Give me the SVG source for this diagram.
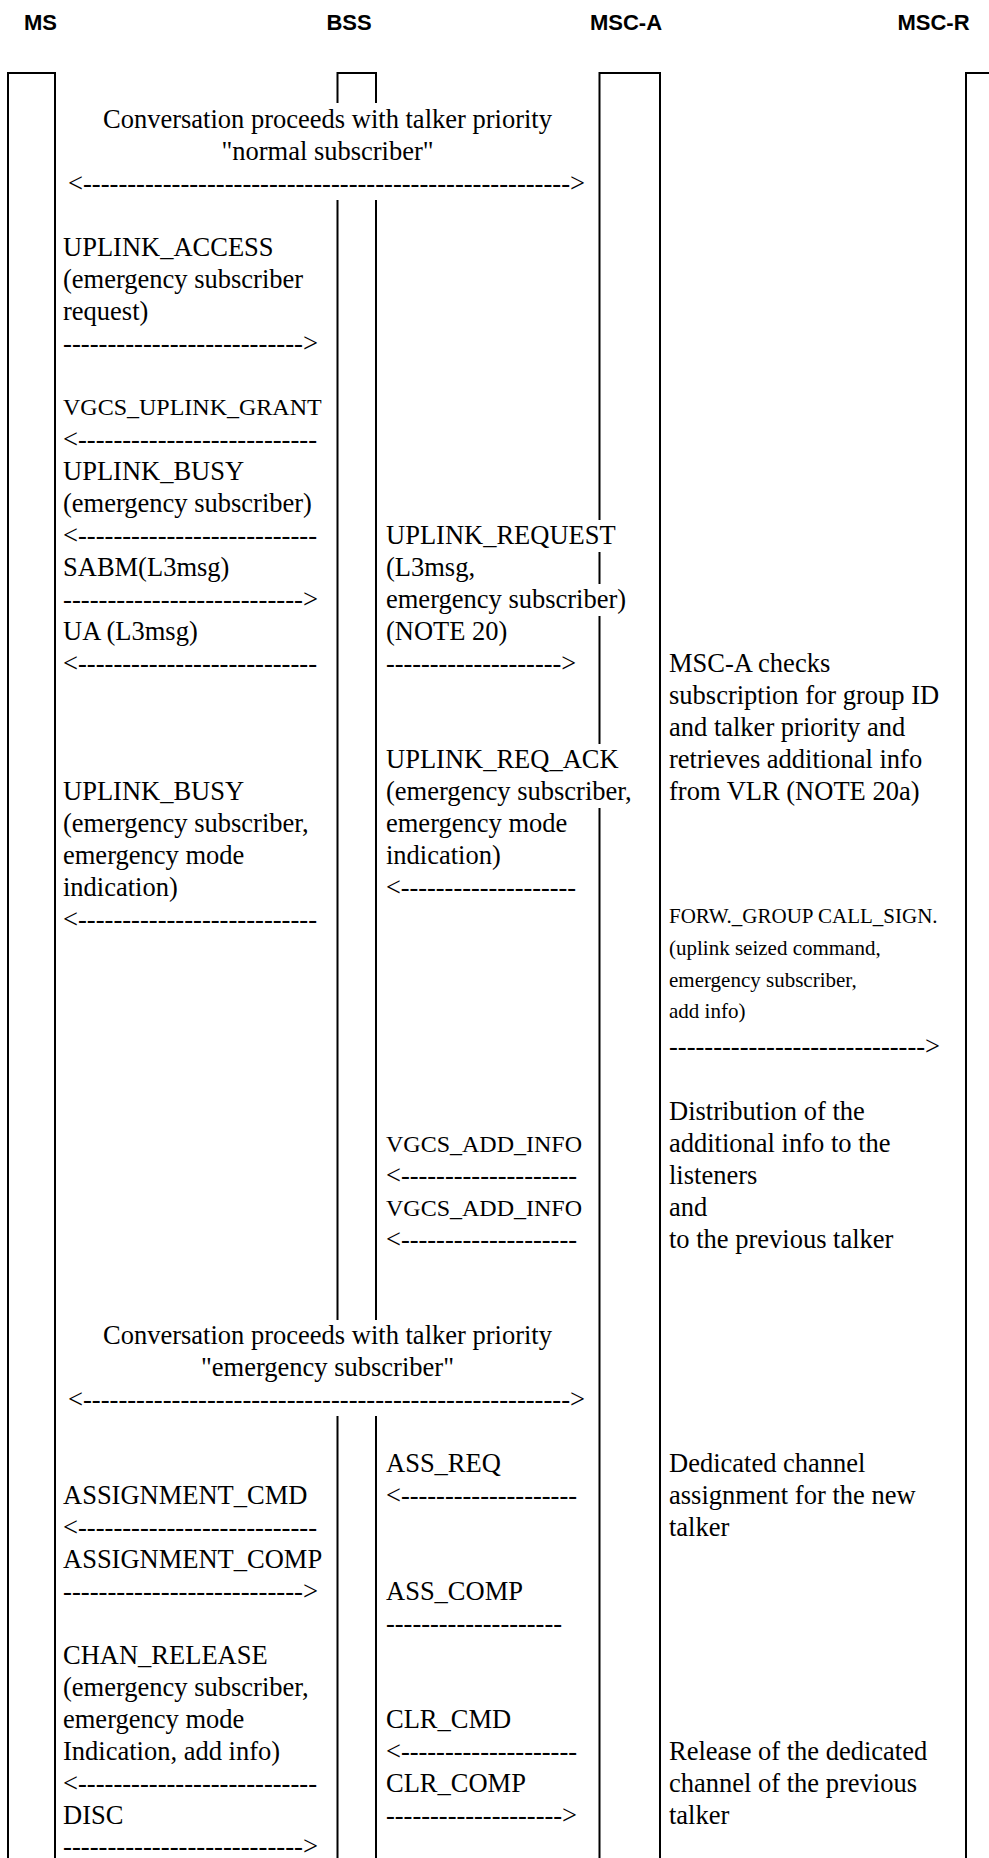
<svg xmlns="http://www.w3.org/2000/svg" width="989" height="1858" viewBox="0 0 989 1858">
<style>
.t{font-family:"Liberation Serif","Times New Roman",serif;font-size:26.5px;fill:#000}
.s{font-size:21px}
.g{font-size:24px}
.c{text-anchor:middle}
.h{font-family:"Liberation Sans",Arial,sans-serif;font-weight:bold;font-size:22px;fill:#000;text-anchor:middle}
.ln{stroke:#000;stroke-width:2;fill:none}
</style>
<rect width="989" height="1858" fill="#fff"/>
<g id="MS">
<text class="h" x="40.5" y="30">MS</text>
<path class="ln" d="M8,1858V73H55V1858"/>
</g>
<g id="BSS">
<text class="h" x="349" y="30">BSS</text>
<path class="ln" d="M337.5,103V73H376V103M337.5,200V1320M376,200V1320M337.5,1416V1858M376,1416V1858"/>
</g>
<g id="MSC-A">
<text class="h" x="626" y="30">MSC-A</text>
<path class="ln" d="M599.5,520V73H660V1858M599.5,552V584M599.5,616V744M599.5,808V1858"/>
</g>
<g id="MSC-R">
<text class="h" x="933.5" y="30">MSC-R</text>
<path class="ln" d="M966,1858V73H992"/>
</g>
<g id="notes">
<text class="t c" x="327.5" y="128">Conversation proceeds with talker priority</text>
<text class="t c" x="327.5" y="160">"normal subscriber"</text>
<text class="t" x="669" y="672">MSC-A checks</text>
<text class="t" x="669" y="704">subscription for group ID</text>
<text class="t" x="669" y="736">and talker priority and</text>
<text class="t" x="669" y="768">retrieves additional info</text>
<text class="t" x="669" y="800">from VLR (NOTE 20a)</text>
<text class="t" x="669" y="1120">Distribution of the</text>
<text class="t" x="669" y="1152">additional info to the</text>
<text class="t" x="669" y="1184">listeners</text>
<text class="t" x="669" y="1216">and</text>
<text class="t" x="669" y="1248">to the previous talker</text>
<text class="t c" x="327.5" y="1344">Conversation proceeds with talker priority</text>
<text class="t c" x="327.5" y="1376">"emergency subscriber"</text>
<text class="t" x="669" y="1472">Dedicated channel</text>
<text class="t" x="669" y="1504">assignment for the new</text>
<text class="t" x="669" y="1536">talker</text>
<text class="t" x="669" y="1760">Release of the dedicated</text>
<text class="t" x="669" y="1792">channel of the previous</text>
<text class="t" x="669" y="1824">talker</text>
</g>
<g id="messages">
<text class="t" x="63" y="256">UPLINK_ACCESS</text>
<text class="t" x="63" y="288">(emergency subscriber</text>
<text class="t" x="63" y="320">request)</text>
<text class="t g" x="63" y="415">VGCS_UPLINK_GRANT</text>
<text class="t" x="63" y="480">UPLINK_BUSY</text>
<text class="t" x="63" y="512">(emergency subscriber)</text>
<text class="t" x="63" y="576">SABM(L3msg)</text>
<text class="t" x="63" y="640">UA (L3msg)</text>
<text class="t" x="386" y="544">UPLINK_REQUEST</text>
<text class="t" x="386" y="576">(L3msg,</text>
<text class="t" x="386" y="608">emergency subscriber)</text>
<text class="t" x="386" y="640">(NOTE 20)</text>
<text class="t" x="386" y="768">UPLINK_REQ_ACK</text>
<text class="t" x="386" y="800">(emergency subscriber,</text>
<text class="t" x="386" y="832">emergency mode</text>
<text class="t" x="386" y="864">indication)</text>
<text class="t" x="63" y="800">UPLINK_BUSY</text>
<text class="t" x="63" y="832">(emergency subscriber,</text>
<text class="t" x="63" y="864">emergency mode</text>
<text class="t" x="63" y="896">indication)</text>
<text class="t s" x="669" y="923">FORW._GROUP CALL_SIGN.</text>
<text class="t s" x="669" y="955">(uplink seized command,</text>
<text class="t s" x="669" y="987">emergency subscriber,</text>
<text class="t s" x="669" y="1018">add info)</text>
<text class="t g" x="386" y="1152">VGCS_ADD_INFO</text>
<text class="t g" x="386" y="1216">VGCS_ADD_INFO</text>
<text class="t" x="386" y="1472">ASS_REQ</text>
<text class="t" x="63" y="1504">ASSIGNMENT_CMD</text>
<text class="t" x="63" y="1568">ASSIGNMENT_COMP</text>
<text class="t" x="386" y="1600">ASS_COMP</text>
<text class="t" x="63" y="1664">CHAN_RELEASE</text>
<text class="t" x="63" y="1696">(emergency subscriber,</text>
<text class="t" x="63" y="1728">emergency mode</text>
<text class="t" x="63" y="1760">Indication, add info)</text>
<text class="t" x="386" y="1728">CLR_CMD</text>
<text class="t" x="386" y="1792">CLR_COMP</text>
<text class="t" x="63" y="1824">DISC</text>
</g>
<g id="connectors">
<text class="t" x="68" y="192" textLength="517" lengthAdjust="spacingAndGlyphs">&lt;-------------------------------------------------------&gt;</text>
<text class="t" x="63" y="352" textLength="255" lengthAdjust="spacingAndGlyphs">---------------------------&gt;</text>
<text class="t" x="63" y="448" textLength="254" lengthAdjust="spacingAndGlyphs">&lt;---------------------------</text>
<text class="t" x="63" y="544" textLength="254" lengthAdjust="spacingAndGlyphs">&lt;---------------------------</text>
<text class="t" x="63" y="608" textLength="255" lengthAdjust="spacingAndGlyphs">---------------------------&gt;</text>
<text class="t" x="63" y="672" textLength="254" lengthAdjust="spacingAndGlyphs">&lt;---------------------------</text>
<text class="t" x="386" y="672" textLength="190" lengthAdjust="spacingAndGlyphs">--------------------&gt;</text>
<text class="t" x="386" y="896" textLength="190" lengthAdjust="spacingAndGlyphs">&lt;--------------------</text>
<text class="t" x="63" y="928" textLength="254" lengthAdjust="spacingAndGlyphs">&lt;---------------------------</text>
<text class="t" x="669" y="1055" textLength="271" lengthAdjust="spacingAndGlyphs">-----------------------------&gt;</text>
<text class="t" x="386" y="1184" textLength="191" lengthAdjust="spacingAndGlyphs">&lt;--------------------</text>
<text class="t" x="386" y="1248" textLength="191" lengthAdjust="spacingAndGlyphs">&lt;--------------------</text>
<text class="t" x="68" y="1408" textLength="517" lengthAdjust="spacingAndGlyphs">&lt;-------------------------------------------------------&gt;</text>
<text class="t" x="386" y="1504" textLength="191" lengthAdjust="spacingAndGlyphs">&lt;--------------------</text>
<text class="t" x="63" y="1536" textLength="254" lengthAdjust="spacingAndGlyphs">&lt;---------------------------</text>
<text class="t" x="63" y="1600" textLength="255" lengthAdjust="spacingAndGlyphs">---------------------------&gt;</text>
<text class="t" x="386" y="1632" textLength="176" lengthAdjust="spacingAndGlyphs">--------------------</text>
<text class="t" x="386" y="1760" textLength="191" lengthAdjust="spacingAndGlyphs">&lt;--------------------</text>
<text class="t" x="63" y="1792" textLength="254" lengthAdjust="spacingAndGlyphs">&lt;---------------------------</text>
<text class="t" x="386" y="1824" textLength="191" lengthAdjust="spacingAndGlyphs">--------------------&gt;</text>
<text class="t" x="63" y="1855" textLength="255" lengthAdjust="spacingAndGlyphs">---------------------------&gt;</text>
</g>
</svg>
